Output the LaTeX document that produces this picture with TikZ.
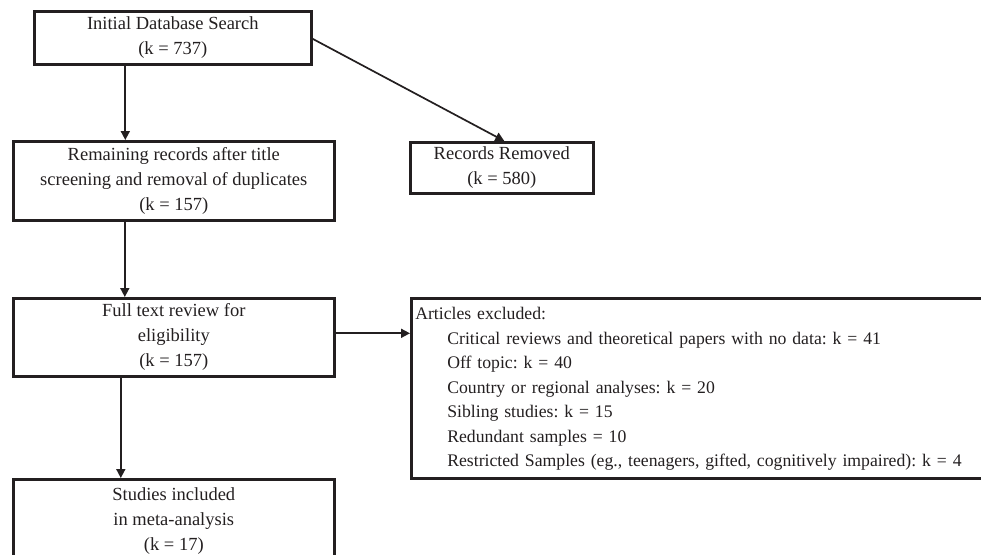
\documentclass[tikz,border=0pt]{standalone}
\usepackage{fontspec}
\setmainfont{Liberation Serif}
\newfontfamily\listfont{Liberation Serif}[WordSpace=0.6]
\usetikzlibrary{arrows.meta,positioning}

\definecolor{ink}{HTML}{231F20}

\begin{document}
\frenchspacing
\begin{tikzpicture}[
    x=1pt, y=-1pt,
    box/.style={draw=ink, line width=2.6pt, align=center, inner sep=2pt, font=\fontsize{18.5}{25}\selectfont, text=ink},
    arrow/.style={-{Triangle[length=9pt,width=9pt]}, line width=1.7pt, draw=ink}
  ]
    \useasboundingbox (0,0) rectangle (981,554);

    \node[box, anchor=north west, minimum width=277pt, minimum height=53pt] (search) at (33,10)
      {Initial Database Search\\(k = 737)};
    \node[box, anchor=north west, minimum width=321pt, minimum height=79pt] (remain) at (12,140)
      {Remaining records after title\\screening and removal of duplicates\\(k = 157)};
    \node[box, anchor=north west, minimum width=183pt, minimum height=51pt] (removed) at (409,141)
      {Records Removed\\(k = 580)};
    \node[box, anchor=north west, minimum width=321pt, minimum height=78pt] (fulltext) at (12,297)
      {Full text review for\\eligibility\\(k = 157)};
    \node[box, anchor=north west, minimum width=321pt, minimum height=84pt] (included) at (12,478)
      {Studies included\\in meta-analysis\\(k = 17)};
    \node[box, anchor=north west, text width=590pt, minimum height=180pt, align=left, inner sep=4pt,
          font=\listfont\fontsize{17.7}{24.5}\selectfont] (excluded) at (410,297)
      {\begin{tabular}{@{}l@{}}
        Articles excluded:\\
        \hspace*{32pt}Critical reviews and theoretical papers with no data: k = 41\\
        \hspace*{32pt}Off topic: k = 40\\
        \hspace*{32pt}Country or regional analyses: k = 20\\
        \hspace*{32pt}Sibling studies: k = 15\\
        \hspace*{32pt}Redundant samples = 10\\
        \hspace*{32pt}Restricted Samples (eg., teenagers, gifted, cognitively impaired): k = 4
      \end{tabular}};

    \draw[arrow] ([xshift=-47.5pt]search.south) -- ([xshift=-47.5pt]search.south |- remain.north);
    \draw[arrow] ([yshift=-1pt]search.east) -- ([xshift=2.5pt]removed.north);
    \draw[arrow] ([xshift=-49pt]remain.south) -- ([xshift=-49pt]remain.south |- fulltext.north);
    \draw[arrow] ([yshift=4pt]fulltext.east) -- ([yshift=4pt]fulltext.east -| excluded.west);
    \draw[arrow] ([xshift=-53pt]fulltext.south) -- ([xshift=-53pt]fulltext.south |- included.north);
  \end{tikzpicture}
\end{document}
